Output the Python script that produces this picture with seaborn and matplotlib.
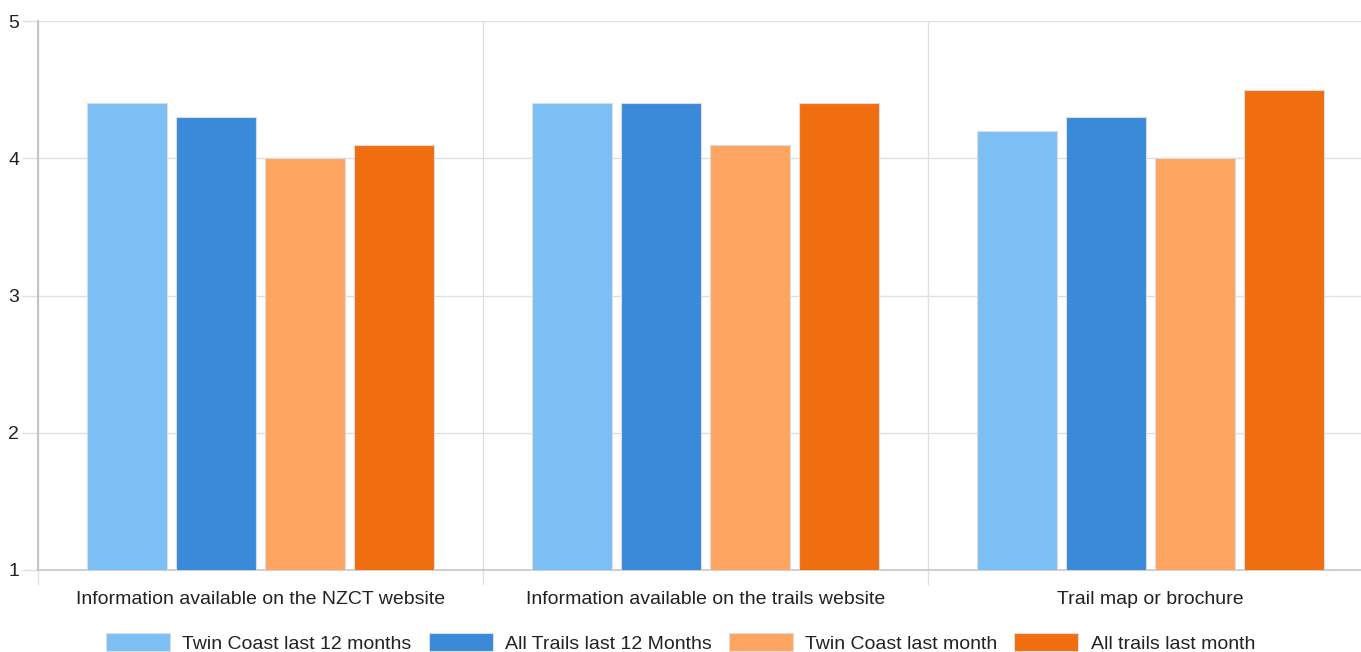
import matplotlib
matplotlib.use("Agg")
import matplotlib.pyplot as plt
import seaborn as sns
import pandas as pd

categories = ["Information available on the NZCT website",
              "Information available on the trails website",
              "Trail map or brochure"]
series = ["Twin Coast last 12 months", "All Trails last 12 Months",
          "Twin Coast last month", "All trails last month"]
twin_12 = [4.4, 4.4, 4.2]
all_12 = [4.3, 4.4, 4.3]
twin_month = [4.0, 4.1, 4.0]
all_month = [4.1, 4.4, 4.5]
colors = ["#7BBFF5", "#3B8AD9", "#FFA562", "#F06D10"]
yticks = [1, 2, 3, 4, 5]

rows = []
for s, vals in zip(series, [twin_12, all_12, twin_month, all_month]):
    for c, v in zip(categories, vals):
        rows.append({"category": c, "series": s, "value": v})
df = pd.DataFrame(rows)

sns.set_theme(style="white", rc={"xtick.bottom": True, "ytick.left": True})
plt.rcParams["font.family"] = ["Liberation Sans", "DejaVu Sans"]

W, H = 1361, 652
fig = plt.figure(figsize=(W / 100, H / 100), dpi=100)
ax = fig.add_axes([38 / W, (H - 570) / H, (1373 - 38) / W, (570 - 21) / H])

sns.barplot(data=df, x="category", y="value", hue="series", order=categories,
            hue_order=series, palette=colors, saturation=1, width=0.8, gap=0.1,
            edgecolor="#dcdcdc", linewidth=0.8, ax=ax, legend=True,
            errorbar=None, zorder=3)

ax.set_xlim(-0.5, 2.5)
ax.set_ylim(1, 5)
ax.set_yticks(yticks)
ax.set_yticklabels([str(t) for t in yticks])
ax.set_xlabel("")
ax.set_ylabel("")

grid_c = "#e0e0e0"
ax.grid(axis="y", color=grid_c, linewidth=1, zorder=0)
ax.set_xticks([-0.5, 0.5, 1.5], minor=True)
ax.grid(axis="x", which="minor", color=grid_c, linewidth=1, zorder=0)
ax.tick_params(axis="x", which="minor", bottom=True, length=11, width=1,
               color=grid_c, direction="out")
ax.tick_params(axis="x", which="major", bottom=False, length=0, pad=15,
               labelsize=14, labelcolor="#222222")
ax.tick_params(axis="y", which="major", left=True, length=11.5, width=1,
               color=grid_c, direction="out", pad=2, labelsize=14,
               labelcolor="#222222")

for s in ["top", "right"]:
    ax.spines[s].set_visible(False)
ax.spines["left"].set_color("#bdbdbd")
ax.spines["bottom"].set_color("#c8c8c8")
ax.spines["left"].set_zorder(4)

handles, labels = ax.get_legend_handles_labels()
ax.legend_.remove()
fig.legend(handles, labels, loc="center", bbox_to_anchor=(0.5, (H - 643) / H),
           ncol=4, frameon=False, fontsize=14, handlelength=3.3, handleheight=1.05,
           handletextpad=0.62, columnspacing=0.88, labelcolor="#222222")

fig.savefig("out.png", dpi=100)
